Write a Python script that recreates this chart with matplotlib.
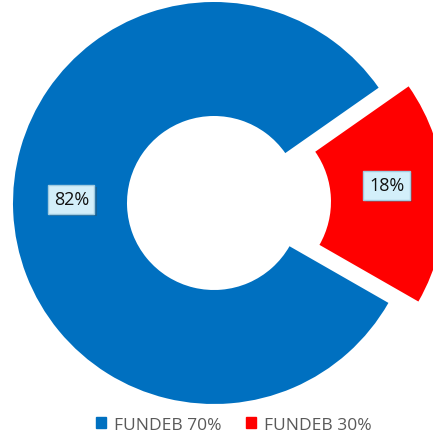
import matplotlib.pyplot as plt
import matplotlib.patheffects as pe

labels = ['FUNDEB 70%', 'FUNDEB 30%']
values = [82, 18]
colors = ['#0070C0', '#FF0000']

plt.rcParams['font.family'] = ['Open Sans', 'DejaVu Sans']

fig = plt.figure(figsize=(4.33, 4.39), dpi=100)
ax = fig.add_axes([0, 0, 1, 1])

# axes in pixel units; red slice drawn first, counter-clockwise, on the right
wedges, texts, autotexts = ax.pie(
    values[::-1], colors=colors[::-1], explode=[30, 0],
    startangle=-29.8, counterclock=True, center=(214, 235), radius=201,
    wedgeprops=dict(width=114, edgecolor='none'),
    autopct='%1.0f%%', pctdistance=0.71, frame=True)
ax.set_xlim(0, 433)
ax.set_ylim(0, 439)
ax.axis('off')

for t in autotexts:
    x, y = t.get_position()
    t.set_position((x, y + 10))
    t.set_fontsize(13)
    t.set_color('#111111')
    t.set_bbox(dict(boxstyle='square,pad=0.3', facecolor='#D3EFFA',
                    edgecolor='#A0CBE0', linewidth=1))
    t.get_bbox_patch().set_path_effects([
        pe.SimplePatchShadow(offset=(1.5, -1.5), alpha=0.35), pe.Normal()])

handles = [plt.Rectangle((0, 0), 1, 1, color=c) for c in colors]
leg = fig.legend(handles, labels, loc='center', bbox_to_anchor=(0.54, 0.03),
                 ncol=2, frameon=False, fontsize=12.5, handlelength=0.6,
                 handleheight=0.6, handletextpad=0.45, columnspacing=1.4)
for t in leg.get_texts():
    t.set_color('#595959')

fig.savefig('out.png', dpi=100)
